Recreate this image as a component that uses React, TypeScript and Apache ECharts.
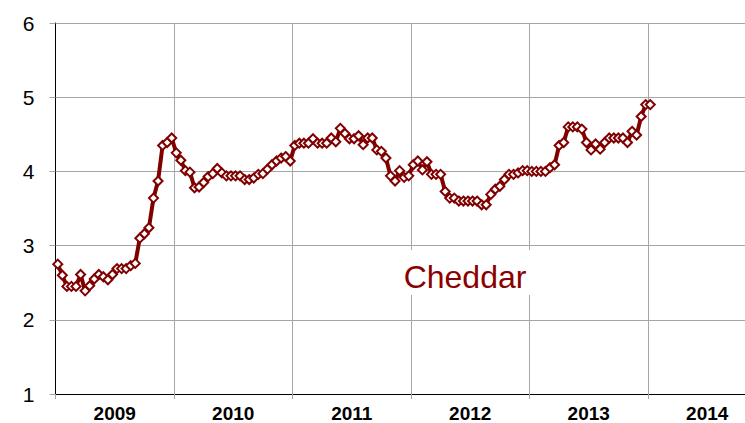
import React, { useEffect, useRef } from "react";
import * as echarts from "echarts";

const years = ["2009", "2010", "2011", "2012", "2013", "2014"];
const periodsPerYear = 26;

const values2009 = [2.75, 2.6, 2.45, 2.45, 2.45, 2.61, 2.39, 2.46, 2.55, 2.61, 2.58, 2.54, 2.61, 2.69, 2.69, 2.69, 2.73, 2.76, 3.1, 3.16, 3.24, 3.64, 3.87, 4.35, 4.39, 4.45];
const values2010 = [4.25, 4.15, 4.01, 3.99, 3.78, 3.79, 3.85, 3.93, 3.97, 4.04, 3.98, 3.94, 3.94, 3.94, 3.94, 3.89, 3.89, 3.91, 3.96, 3.97, 4.03, 4.09, 4.14, 4.18, 4.2, 4.14];
const values2011 = [4.35, 4.38, 4.38, 4.38, 4.44, 4.38, 4.38, 4.38, 4.45, 4.4, 4.58, 4.51, 4.44, 4.44, 4.48, 4.36, 4.45, 4.45, 4.29, 4.27, 4.18, 3.94, 3.87, 4.01, 3.92, 3.94];
const values2012 = [4.09, 4.14, 4.02, 4.13, 3.96, 3.96, 3.96, 3.73, 3.64, 3.64, 3.6, 3.6, 3.6, 3.6, 3.6, 3.55, 3.55, 3.69, 3.76, 3.8, 3.89, 3.96, 3.96, 3.98, 4.01, 4.01];
const values2013 = [4.0, 4.0, 4.0, 4.0, 4.05, 4.09, 4.35, 4.39, 4.6, 4.6, 4.6, 4.57, 4.39, 4.29, 4.37, 4.3, 4.39, 4.45, 4.45, 4.45, 4.45, 4.39, 4.54, 4.49, 4.74, 4.9];
const values2014 = [4.9];

const yTicks = [1, 2, 3, 4, 5, 6];
const seriesLabel = "Cheddar";

export default function App() {
  const ref = useRef<HTMLDivElement>(null);

  useEffect(() => {
    if (!ref.current) return;
    const chart = echarts.init(ref.current, undefined, { renderer: "svg" });

    const categories: string[] = [];
    years.forEach((y) => {
      for (let k = 1; k <= periodsPerYear; k++) categories.push(`${y}-${k}`);
    });
    const values = [...values2009, ...values2010, ...values2011, ...values2012, ...values2013, ...values2014];

    const dark = "#800000";
    const gridGray = "#a6a6a6";
    const font = "'Liberation Sans', Arial, sans-serif";

    chart.setOption({
      animation: false,
      grid: { left: 55.5, top: 23, right: 13.5, bottom: 28, containLabel: false },
      xAxis: [
        {
          type: "category",
          data: categories,
          boundaryGap: true,
          show: false,
        },
        {
          type: "category",
          data: years,
          boundaryGap: true,
          position: "bottom",
          axisLine: { show: true, onZero: false, lineStyle: { color: "#000", width: 1 } },
          axisTick: { show: true, length: 5, lineStyle: { color: gridGray } },
          splitLine: { show: true, lineStyle: { color: gridGray, width: 1 } },
          axisLabel: {
            color: "#000",
            fontSize: 19,
            fontWeight: "bold",
            fontFamily: font,
            margin: 10,
          },
        },
      ],
      yAxis: {
        type: "value",
        min: yTicks[0],
        max: yTicks[yTicks.length - 1],
        interval: 1,
        axisLine: { show: true, lineStyle: { color: "#000", width: 1 } },
        axisTick: { show: true, length: 6, lineStyle: { color: gridGray } },
        splitLine: { show: true, lineStyle: { color: gridGray, width: 1 } },
        axisLabel: { color: "#000", fontSize: 21, fontFamily: font, margin: 21 },
      },
      series: [
        {
          type: "line",
          name: seriesLabel,
          xAxisIndex: 0,
          data: values,
          symbol: "diamond",
          symbolSize: 9,
          showAllSymbol: true,
          lineStyle: { color: dark, width: 4 },
          itemStyle: { color: "#fff", borderColor: dark, borderWidth: 2 },
          z: 5,
        },
      ],
      graphic: [
        {
          type: "rect",
          z: 10,
          shape: { x: 398, y: 250, width: 138, height: 45 },
          style: { fill: "#fff" },
        },
        {
          type: "text",
          z: 11,
          x: 465,
          y: 277,
          style: {
            text: seriesLabel,
            fill: "#8b0000",
            fontSize: 32,
            fontFamily: font,
            align: "center",
            verticalAlign: "middle",
          },
        },
      ],
    });

    return () => chart.dispose();
  }, []);

  return (
    <div style={{ position: "fixed", left: 0, top: 0, width: 745, height: 423, overflow: "hidden", background: "#fff" }}>
      <div ref={ref} style={{ width: 780, height: 423 }} />
    </div>
  );
}
